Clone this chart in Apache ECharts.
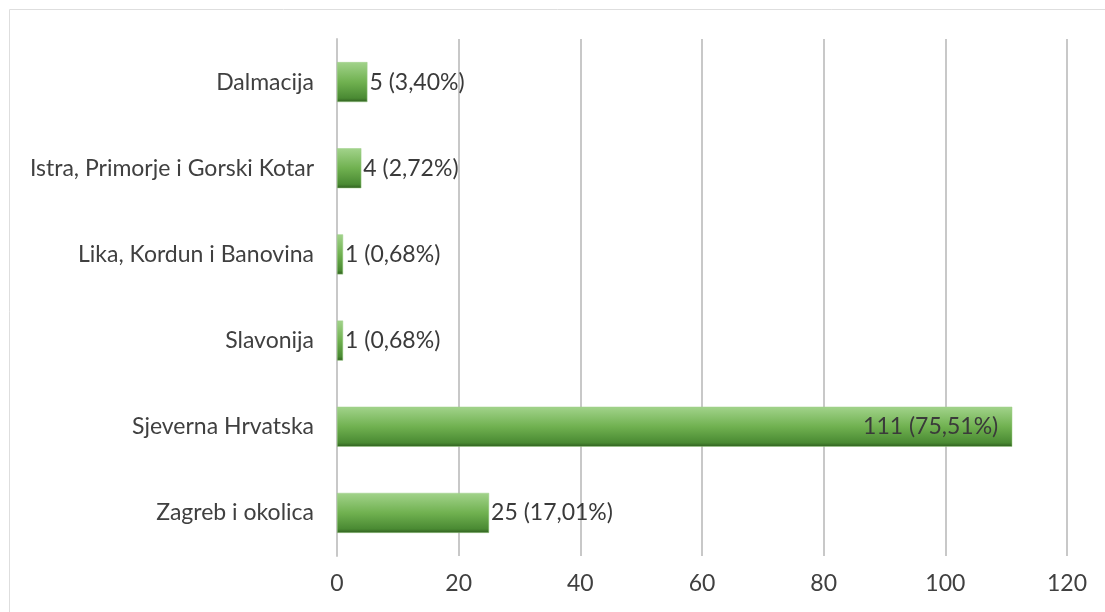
<!DOCTYPE html>
<html>
<head>
<meta charset="utf-8">
<script src="https://cdn.jsdelivr.net/npm/echarts@6/dist/echarts.min.js"></script>
<style>
html,body{margin:0;padding:0;background:#fff;}
#chart{width:1105px;height:612px;}
</style>
</head>
<body>
<div id="chart"></div>
<script>
const categories = ["Zagreb i okolica", "Sjeverna Hrvatska", "Slavonija", "Lika, Kordun i Banovina", "Istra, Primorje i Gorski Kotar", "Dalmacija"];
const values = [25, 111, 1, 1, 4, 5];
const percents = ["17,01%", "75,51%", "0,68%", "0,68%", "2,72%", "3,40%"];
const xTicks = [0, 20, 40, 60, 80, 100, 120];

const chart = echarts.init(document.getElementById('chart'), null, {renderer: 'canvas'});
const font = 'Lato, "Open Sans", sans-serif';
const barGradient = new echarts.graphic.LinearGradient(0, 0, 0, 1, [
  {offset: 0, color: '#a2d38b'},
  {offset: 0.5, color: '#70b150'},
  {offset: 0.9, color: '#4a8a33'},
  {offset: 1, color: '#2f5e1f'}
]);

chart.setOption({
  animation: false,
  graphic: [{
    type: 'rect',
    shape: {x: 9.5, y: 9.5, width: 1200, height: 700},
    style: {fill: 'none', stroke: '#dedede', lineWidth: 1}
  }],
  grid: {left: 337, right: 38, top: 39, bottom: 56, containLabel: false},
  xAxis: {
    type: 'value',
    min: xTicks[0],
    max: xTicks[xTicks.length - 1],
    interval: 20,
    axisLine: {show: false},
    axisTick: {show: false},
    splitLine: {show: true, lineStyle: {color: '#c8c8c8', width: 2}},
    axisLabel: {color: '#404040', fontSize: 23, fontFamily: font, margin: 16}
  },
  yAxis: {
    type: 'category',
    data: categories,
    axisLine: {show: true, lineStyle: {color: '#c8c8c8', width: 2}},
    axisTick: {show: false},
    axisLabel: {color: '#404040', fontSize: 23, fontFamily: font, margin: 23}
  },
  series: [{
    type: 'bar',
    data: values.map((v, i) => ({
      value: v,
      label: i === 1 ? {position: 'insideRight', distance: 14} : {position: 'right', distance: 2}
    })),
    barWidth: 40,
    itemStyle: {color: barGradient, borderColor: '#9ccf86', borderWidth: 0.5},
    label: {
      show: true,
      color: '#3a3a3a',
      fontSize: 23,
      fontFamily: font,
      formatter: p => values[p.dataIndex] + ' (' + percents[p.dataIndex] + ')'
    }
  }]
});
</script>
</body>
</html>
